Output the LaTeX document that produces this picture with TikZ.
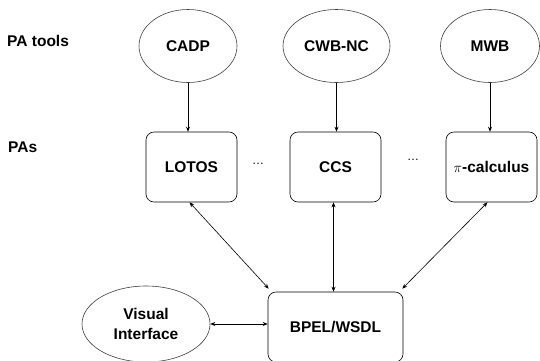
\documentclass[tikz,border=0pt]{standalone}
\usepackage{fontspec}
\setmainfont{Liberation Sans}
\usetikzlibrary{shapes.geometric,arrows.meta}
\begin{document}
\begin{tikzpicture}[x=1pt,y=-1pt,
  every node/.style={font=\fontsize{15.5}{17}\selectfont\bfseries, inner sep=0pt},
  tool/.style={ellipse, draw=black!75, line width=0.6pt, minimum height=73pt},
  pa/.style={rectangle, rounded corners=8pt, draw=black, line width=0.6pt, minimum width=91pt, minimum height=70pt},
  lab/.style={anchor=west},
  dots/.style={font=\fontsize{12}{14}\selectfont},
  conn/.style={line width=0.6pt, -{Stealth[length=5pt,width=4pt]}},
  biconn/.style={line width=0.6pt, {Stealth[length=5pt,width=4pt]}-{Stealth[length=5pt,width=4pt]}}]
\useasboundingbox (0,0) rectangle (540,360);
\node[lab] (l1) at (7,41) {PA tools};
\node[lab] (l2) at (8,147) {PAs};
\node[tool, minimum width=98pt] (cadp) at (188,46) {CADP};
\node[tool, minimum width=107pt] (cwb) at (336.5,46) {CWB-NC};
\node[tool, minimum width=99pt] (mwb) at (490,46) {MWB};
\node[pa] (lotos) at (191.5,167) {LOTOS};
\node[pa] (ccs) at (335.5,167) {CCS};
\node[pa] (pi) at (491.5,167) {$\pi$-calculus};
\node[dots] (d1) at (258,164) {\ldots};
\node[dots] (d2) at (413,160) {\ldots};
\node[pa, minimum width=135pt] (bpel) at (335.5,327) {BPEL/WSDL};
\node[tool, minimum width=128pt, minimum height=76pt, align=center, font=\fontsize{15.5}{20.5}\selectfont\bfseries] (vi) at (146,324) {Visual\\Interface};
\draw[conn] (cadp.south) -- (cadp.south |- lotos.north);
\draw[conn] (cwb.south) -- (cwb.south |- ccs.north);
\draw[conn] (mwb.south) -- (mwb.south |- pi.north);
\draw[biconn] ([xshift=-2pt]lotos.south) -- ([xshift=1pt,yshift=3pt]bpel.north west);
\draw[biconn] ([xshift=-2pt]ccs.south) -- ([xshift=-2pt]bpel.north);
\draw[biconn] ([xshift=-4pt]pi.south) -- ([xshift=-1pt,yshift=3pt]bpel.north east);
\draw[biconn] (vi.east) -- (vi.east -| bpel.west);
\end{tikzpicture}
\end{document}
